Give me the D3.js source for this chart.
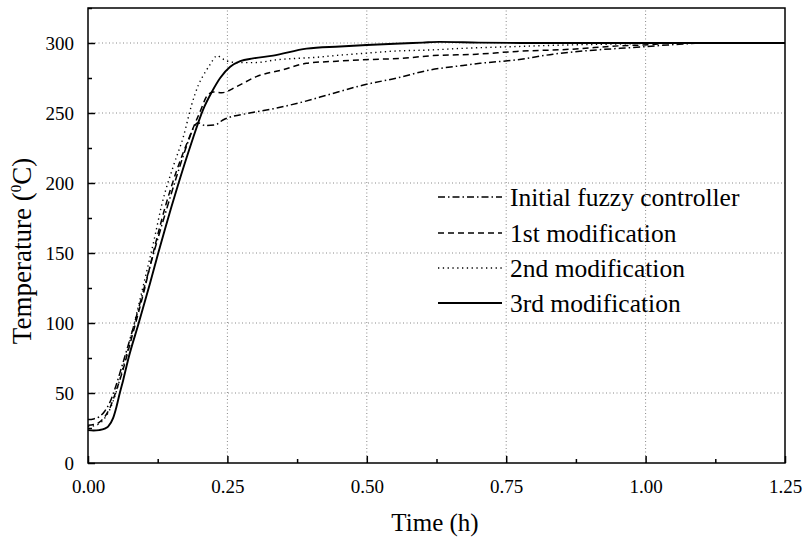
<!DOCTYPE html>
<html><head><meta charset="utf-8">
<script src="https://cdn.jsdelivr.net/npm/d3@7"></script>
<style>body{margin:0;background:#fff}svg{display:block}text{font-family:"Liberation Serif","Times New Roman",serif;fill:#000}</style>
</head><body><svg id="c" width="805" height="540"></svg>
<script>
const xTicks = [0, 0.25, 0.5, 0.75, 1.0, 1.25];
const yTicks = [0, 50, 100, 150, 200, 250, 300];
const seriesNames = ["Initial fuzzy controller", "1st modification", "2nd modification", "3rd modification"];

const tInitial = [0,0.01,0.02,0.03,0.04,0.05,0.06,0.08,0.10,0.12,0.14,0.16,0.18,0.19,0.197,0.21,0.228,0.242,0.29,0.332,0.386,0.434,0.494,0.554,0.613,0.673,0.703,0.769,0.834,0.894,0.954,1.0,1.04,1.07,1.1,1.25];
const vInitial = [31,31.5,33,37,44,55,68,95,124,153,180,206,230,240,243,241,241.5,245,250,253,258,263.4,270,275,280.7,284,285.5,288,292,294.5,296.2,297.4,298.6,299.3,300,300];

const tMod1 = [0,0.01,0.02,0.03,0.04,0.05,0.06,0.08,0.10,0.12,0.14,0.16,0.18,0.20,0.215,0.225,0.24,0.267,0.302,0.35,0.392,0.446,0.506,0.56,0.619,0.697,0.769,0.864,0.954,1.01,1.05,1.25];
const vMod1 = [27,27.5,29,33,40,51,63,92,122,155,185,210,231,250,263,265,264.5,269,276,281,285.5,287,288.2,289,291,292,294,295.5,298,298.8,300,300];

const tMod2 = [0,0.01,0.02,0.03,0.04,0.05,0.06,0.08,0.10,0.12,0.132,0.153,0.171,0.186,0.198,0.207,0.218,0.232,0.24,0.255,0.27,0.30,0.338,0.374,0.41,0.434,0.494,0.554,0.613,0.673,0.762,0.85,0.95,1.05,1.25];
const vMod2 = [26,26.5,28,32,39,50,64,95,128,162,184,212,233,256,270,277,284,291,289,286.5,286,286,288,289,289.8,290.7,292.6,294.3,295,296.2,297.4,298.5,299.3,300,300];

const tMod3 = [0,0.01,0.02,0.03,0.036,0.045,0.051,0.057,0.063,0.072,0.091,0.111,0.126,0.138,0.161,0.185,0.207,0.222,0.237,0.255,0.273,0.296,0.332,0.392,0.452,0.50,0.55,0.60,0.63,0.70,0.80,1.0,1.1,1.25];
const vMod3 = [23.5,23.2,23.5,24.5,26,32,40,50,59,74,100,128,150,167,198,228,253,265,275,283,287,289,291,296,297.5,298.6,299.5,300.3,300.8,300.3,300,300,300,300];

const svg = d3.select("#c");
const L = 88, R = 785, T = 8, B = 463;
const x = d3.scaleLinear().domain([0, 1.25]).range([L, R]);
const y = d3.scaleLinear().domain([0, 325]).range([B, T]);

// grid
const g = svg.append("g");
g.selectAll(".gx").data(xTicks.filter(d => d > 0 && d < 1.25)).enter().append("line")
  .attr("x1", d => x(d)).attr("x2", d => x(d)).attr("y1", B).attr("y2", T)
  .attr("stroke", "#888").attr("stroke-width", 1).attr("stroke-dasharray", "1,2.5");
g.selectAll(".gy").data(yTicks.filter(d => d > 0)).enter().append("line")
  .attr("y1", d => y(d)).attr("y2", d => y(d)).attr("x1", L).attr("x2", R)
  .attr("stroke", "#888").attr("stroke-width", 1).attr("stroke-dasharray", "1,2.5");

// series
const series = [
  {t: tInitial, v: vInitial, dash: "7,3,1.5,3", w: 1.5},
  {t: tMod1, v: vMod1, dash: "6,4", w: 1.5},
  {t: tMod2, v: vMod2, dash: "1.3,3.5", w: 1.4},
  {t: tMod3, v: vMod3, dash: null, w: 1.9}
];
const line = d3.line().x(d => x(d[0])).y(d => y(d[1])).curve(d3.curveMonotoneX);
series.forEach(s => {
  const pts = s.t.map((t, i) => [t, s.v[i]]);
  svg.append("path").datum(pts).attr("d", line).attr("fill", "none")
    .attr("stroke", "#000").attr("stroke-width", s.w)
    .attr("stroke-dasharray", s.dash);
});

// axes
const xAxis = d3.axisBottom(x).tickValues(xTicks).tickSizeInner(-7).tickSizeOuter(0).tickPadding(17).tickFormat(d3.format(".2f"));
const xMinor = d3.axisBottom(x).tickValues([0.125,0.375,0.625,0.875,1.125]).tickSizeInner(-4).tickSizeOuter(0).tickFormat("");
const yAxis = d3.axisLeft(y).tickValues(yTicks).tickSizeInner(-7).tickSizeOuter(0).tickPadding(14);
const yMinor = d3.axisLeft(y).tickValues([25,75,125,175,225,275,325]).tickSizeInner(-4).tickSizeOuter(0).tickFormat("");

function style(sel) {
  sel.select(".domain").remove();
  sel.selectAll("line").attr("stroke", "#000").attr("stroke-width", 1.5);
  sel.selectAll("text").attr("font-size", 19).attr("font-family", "Liberation Serif, Times New Roman, serif");
}
svg.append("g").attr("transform", `translate(0,${B})`).call(xAxis).call(style);
svg.append("g").attr("transform", `translate(0,${B})`).call(xMinor).call(style);
svg.append("g").attr("transform", `translate(${L},0)`).call(yAxis).call(style);
svg.append("g").attr("transform", `translate(${L},0)`).call(yMinor).call(style);

svg.append("rect").attr("x", L).attr("y", T).attr("width", R - L).attr("height", B - T)
  .attr("fill", "none").attr("stroke", "#000").attr("stroke-width", 1.5);

// axis titles
svg.append("text").attr("x", 435).attr("y", 531).attr("text-anchor", "middle")
  .attr("font-size", 25).text("Time (h)");
const yt = svg.append("text").attr("transform", `translate(31,251) rotate(-90)`)
  .attr("text-anchor", "middle").attr("font-size", 27);
yt.append("tspan").text("Temperature (");
yt.append("tspan").attr("font-size", 15).attr("dy", -10).text("0");
yt.append("tspan").attr("dy", 10).text("C)");

// legend
const legY = [197, 233, 268, 303];
const lg = svg.append("g");
series.forEach((s, i) => {
  lg.append("line").attr("x1", 438).attr("x2", 502).attr("y1", legY[i]).attr("y2", legY[i])
    .attr("stroke", "#000").attr("stroke-width", s.w).attr("stroke-dasharray", s.dash);
  lg.append("text").attr("x", 510).attr("y", legY[i]).attr("dy", "0.35em")
    .attr("font-size", 25.5).text(seriesNames[i]);
});
</script></body></html>
